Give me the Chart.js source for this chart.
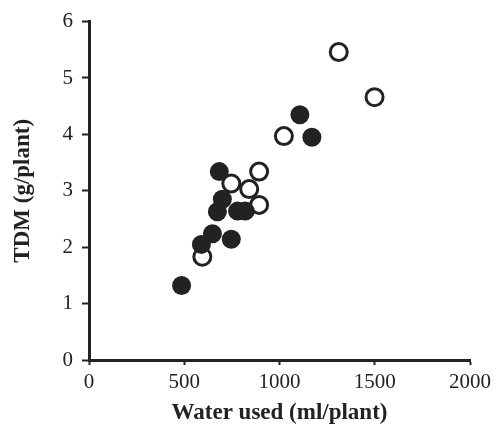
<!DOCTYPE html>
<html>
<head>
<meta charset="utf-8">
<script src="https://cdn.jsdelivr.net/npm/chart.js@4.4.1/dist/chart.umd.min.js"></script>
<style>
  html, body { margin: 0; padding: 0; background: #fff; }
  #wrap { width: 496px; height: 439px; position: relative; }
</style>
</head>
<body>
<div id="wrap"><canvas id="tdmChart"></canvas></div>
<script>
// Water used (ml/plant) vs TDM (g/plant)
const openWater = [1311, 1499, 1023, 893, 747, 841, 893, 595];
const openTdm   = [5.46, 4.66, 3.97, 3.34, 3.13, 3.03, 2.75, 1.83];

const filledWater = [1107, 1170, 684, 700, 674, 780, 820, 747, 648, 590, 486];
const filledTdm   = [4.35, 3.95, 3.34, 2.85, 2.63, 2.64, 2.64, 2.14, 2.24, 2.05, 1.32];

const xTicks = [0, 500, 1000, 1500, 2000];
const yTicks = [0, 1, 2, 3, 4, 5, 6];

function toPoints(xs, ys) {
  return xs.map((x, i) => ({ x: x, y: ys[i] }));
}

const ink = '#222222';
const serif = "'Liberation Serif', 'DejaVu Serif', serif";

const ctx = document.getElementById('tdmChart').getContext('2d');

new Chart(ctx, {
  type: 'scatter',
  data: {
    datasets: [
      {
        label: 'filled',
        data: toPoints(filledWater, filledTdm),
        pointRadius: 9.5,
        pointBackgroundColor: ink,
        pointBorderColor: ink,
        pointBorderWidth: 0,
      },
      {
        label: 'open',
        data: toPoints(openWater, openTdm),
        pointRadius: 8.5,
        pointBackgroundColor: '#ffffff',
        pointBorderColor: ink,
        pointBorderWidth: 3,
      },
    ],
  },
  options: {
    responsive: true,
    maintainAspectRatio: false,
    animation: false,
    clip: false,
    layout: { padding: { top: 15, right: 22, left: 0, bottom: 0 } },
    plugins: {
      legend: { display: false },
      tooltip: { enabled: false },
    },
    scales: {
      x: {
        type: 'linear',
        min: 0,
        max: 2000,
        afterBuildTicks: axis => { axis.ticks = xTicks.map(v => ({ value: v })); },
        afterFit: axis => { axis.height = 79; },
        border: { display: true, color: ink, width: 3 },
        grid: { drawOnChartArea: false, drawTicks: true, tickLength: 5, tickWidth: 2, tickColor: ink },
        ticks: {
          color: ink,
          padding: 5,
          font: { family: serif, size: 21 },
          callback: v => String(v),
        },
        title: {
          display: true,
          text: 'Water used (ml/plant)',
          color: ink,
          padding: { top: 0, bottom: 12 },
          font: { family: serif, size: 23, weight: 'bold' },
        },
      },
      y: {
        type: 'linear',
        min: 0,
        max: 6,
        afterBuildTicks: axis => { axis.ticks = yTicks.map(v => ({ value: v })); },
        afterFit: axis => { axis.width = 89; },
        border: { display: true, color: ink, width: 3 },
        grid: { drawOnChartArea: false, drawTicks: true, tickLength: 7, tickWidth: 2, tickColor: ink },
        ticks: {
          color: ink,
          padding: 9,
          font: { family: serif, size: 21 },
          callback: v => String(v),
        },
        title: {
          display: true,
          text: 'TDM (g/plant)',
          color: ink,
          padding: { top: 9 },
          font: { family: serif, size: 23, weight: 'bold' },
        },
      },
    },
  },
});
</script>
</body>
</html>
